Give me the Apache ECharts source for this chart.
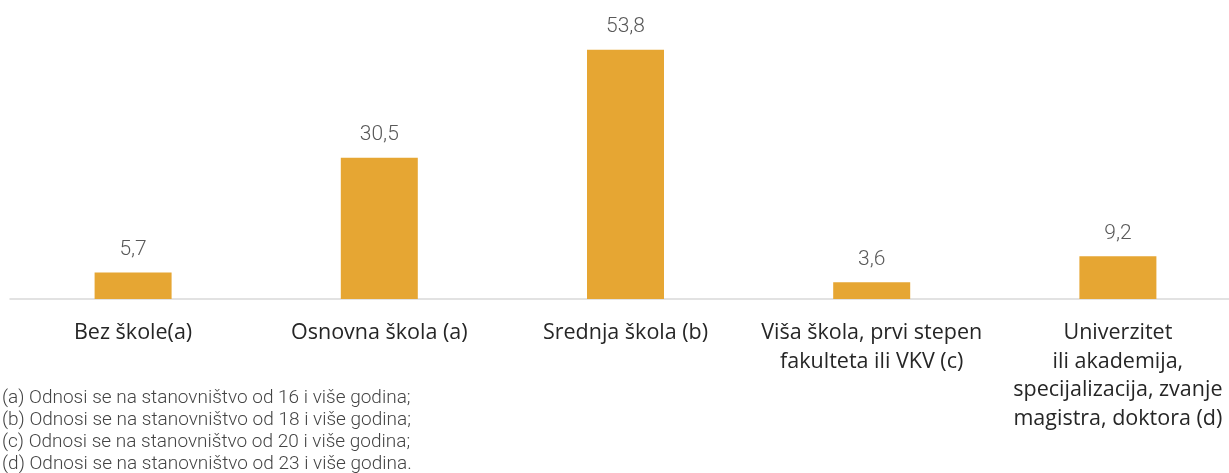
<!DOCTYPE html>
<html>
<head>
<meta charset="utf-8">
<script src="https://cdn.jsdelivr.net/npm/echarts@6/dist/echarts.min.js"></script>
<style>
  html, body { margin: 0; padding: 0; background: #fff; }
  #chart { width: 1229px; height: 473px; }
</style>
</head>
<body>
<div id="chart"></div>
<script>
const categories = [
    'Bez škole(a)',
    'Osnovna škola (a)',
    'Srednja škola (b)',
    'Viša škola, prvi stepen\nfakulteta ili VKV (c)',
    'Univerzitet\nili akademija,\nspecijalizacija, zvanje\nmagistra, doktora (d)'
]
const values = [5.7, 30.5, 53.8, 3.6, 9.2]
const footnotes = [
    '(a) Odnosi se na stanovništvo od 16 i više godina;',
    '(b) Odnosi se na stanovništvo od 18 i više godina;',
    '(c) Odnosi se na stanovništvo od 20 i više godina;',
    '(d) Odnosi se na stanovništvo od 23 i više godina.'
]

const chart = echarts.init(document.getElementById('chart'))

chart.setOption({
    animation: false,
    grid: {
        left: 10,
        top: 21,
        width: 1231,
        height: 278,
        outerBoundsMode: 'none',
        containLabel: false
    },
    xAxis: {
        type: 'category',
        data: categories,
        axisLine: { lineStyle: { color: '#d9d9d9', width: 1.5 } },
        axisTick: { show: false },
        axisLabel: {
            interval: 0,
            margin: 20,
            fontFamily: 'Open Sans',
            fontSize: 21.5,
            lineHeight: 28.5,
            color: '#262626'
        }
    },
    yAxis: {
        type: 'value',
        min: 0,
        max: 60,
        show: false
    },
    series: [
        {
            type: 'bar',
            data: values,
            barWidth: 77,
            itemStyle: { color: '#e6a633' },
            label: {
                show: true,
                position: 'top',
                distance: 12,
                fontFamily: 'Roboto',
                fontWeight: 300,
                fontSize: 21,
                color: '#595959',
                formatter: p => String(p.value).replace('.', ',')
            }
        }
    ],
    graphic: footnotes.map((t, i) => ({
        type: 'text',
        left: 2,
        top: 389 + i * 21.8,
        style: {
            text: t,
            font: '300 19px Roboto',
            fill: '#444'
        }
    }))
})
</script>
</body>
</html>
